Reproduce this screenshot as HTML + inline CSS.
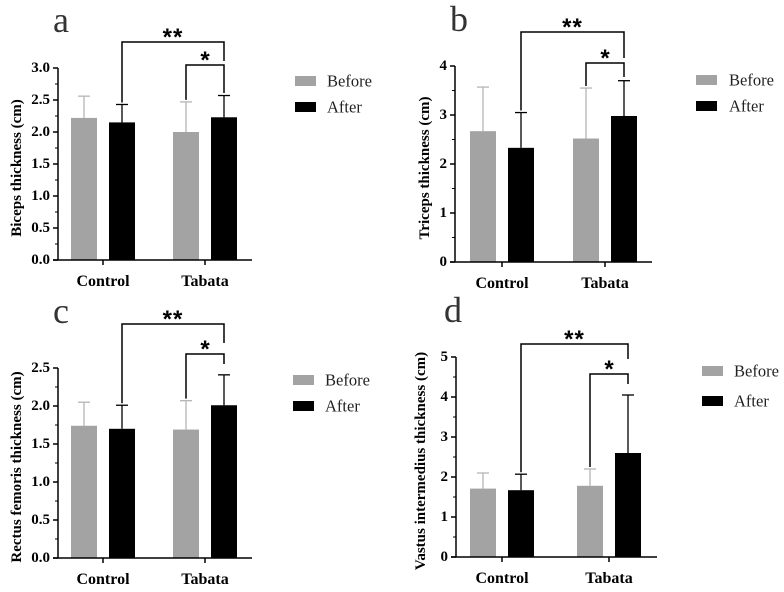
<!DOCTYPE html>
<html><head><meta charset="utf-8">
<style>
html,body{margin:0;padding:0;background:#fff;}
svg{display:block;font-family:"Liberation Serif",serif;}
</style></head>
<body>
<svg id="fig" width="784" height="592" viewBox="0 0 784 592" xmlns="http://www.w3.org/2000/svg"></svg>
<script>
// ---- data ----
const categories = ["Control", "Tabata"];
const seriesNames = ["Before", "After"];
const panelLetters = ["a", "b", "c", "d"];
const yTitles = ["Biceps thickness (cm)", "Triceps thickness (cm)", "Rectus femoris thickness (cm)", "Vastus intermedius thickness (cm)"];
const meansBefore = [[2.22, 2.00], [2.67, 2.52], [1.74, 1.69], [1.71, 1.78]];
const meansAfter  = [[2.15, 2.23], [2.33, 2.98], [1.70, 2.01], [1.67, 2.60]];
const sdBefore    = [[0.34, 0.47], [0.90, 1.03], [0.31, 0.38], [0.39, 0.42]];
const sdAfter     = [[0.28, 0.34], [0.72, 0.72], [0.31, 0.40], [0.40, 1.45]];
const yMax        = [3.0, 4, 2.5, 5];
const yStep       = [0.5, 1, 0.5, 1];
const yDecimals   = [1, 0, 1, 0];

// ---- layout (pixels) ----
const layouts = [
  {ax:58, top:68, bot:260, end:252, t0:103, t1:205, titleX:17, letterX:53, letterY:32, b2:42, b1:65, b2r:61, b1r:93, legX:295, legY:[76,102], legTX:327},
  {ax:455, top:66, bot:262, end:652, t0:502, t1:605, titleX:425, letterX:450, letterY:31, b2:32, b1:63, b2r:58, b1r:77, legX:696, legY:[75,101], legTX:729},
  {ax:58, top:368, bot:558, end:252, t0:103, t1:205, titleX:17, letterX:53, letterY:323, b2:324, b1:354, b2r:343, b1r:364, legX:293, legY:[375,401], legTX:325},
  {ax:456, top:357, bot:557, end:657, t0:502, t1:609, titleX:421, letterX:444, letterY:322, b2:344, b1:374, b2r:359, b1r:384, legX:702, legY:[366,396], legTX:734}
];
const NS = "http://www.w3.org/2000/svg";
const svg = document.getElementById("fig");
function mk(tag, attrs, parent, text){
  const e = document.createElementNS(NS, tag);
  for (const k in attrs) e.setAttribute(k, attrs[k]);
  if (text !== undefined) e.textContent = text;
  (parent || svg).appendChild(e);
  return e;
}
const gray = "#a3a3a3", errGray = "#b5b5b5";
panelLetters.forEach((letter, p) => {
  const L = layouts[p];
  const g = mk("g", {});
  
  
  const y = v => L.bot - (v / yMax[p]) * (L.bot - L.top);
  const groupX = [L.t0, L.t1];
  const lt = mk("text", {x:L.letterX, y:L.letterY, "font-size":36, fill:"#333"}, g, letter);
  
  
  const cy = (L.top + L.bot) / 2 + 4;
  const yt = mk("text", {x:L.titleX, y:cy, "font-size":15, "font-weight":"bold", "text-anchor":"middle", "dominant-baseline":"central", transform:`rotate(-90 ${L.titleX} ${cy})`}, g, yTitles[p]);
  
  
  categories.forEach((cat, i) => {
    const cx = groupX[i];
    [[meansBefore, sdBefore, gray, errGray, -19, "before"], [meansAfter, sdAfter, "#000", "#000", 19, "after"]].forEach(s => {
      const m = s[0][p][i], sd = s[1][p][i];
      const bc = cx + s[4];
      const top = y(m + sd);
      const el = mk("line", {x1:bc, x2:bc, y1:y(m), y2:top, stroke:s[3], "stroke-width":1.3}, g);
      
      
      const cap = mk("line", {x1:bc-6, x2:bc+6, y1:top, y2:top, stroke:s[3], "stroke-width":1.3}, g);
      
      
      const r = mk("rect", {x:bc-13, y:y(m), width:26, height:L.bot - y(m), fill:s[2]}, g);
      
      
    });
    const tk = mk("line", {x1:cx, x2:cx, y1:L.bot, y2:L.bot+5, stroke:"#000", "stroke-width":1.5}, g);
    
    
    const xl = mk("text", {x:cx, y:L.bot+26, "font-size":16, "font-weight":"bold", "text-anchor":"middle"}, g, cat);
    
    
  });
  const yAx = mk("line", {x1:L.ax, x2:L.ax, y1:L.top, y2:L.bot, stroke:"#000", "stroke-width":1.5}, g);
  
  
  const xAx = mk("line", {x1:L.ax-5, x2:L.end, y1:L.bot, y2:L.bot, stroke:"#000", "stroke-width":1.5}, g);
  
  
  const n = Math.round(yMax[p] / yStep[p]);
  for (let k = 0; k <= n; k++) {
    const v = k * yStep[p];
    const tk = mk("line", {x1:L.ax-5, x2:L.ax, y1:y(v), y2:y(v), stroke:"#000", "stroke-width":1.5}, g);
    
    
    if (k < n) {
      const mt = mk("line", {x1:L.ax-3, x2:L.ax, y1:y(v + yStep[p]/2), y2:y(v + yStep[p]/2), stroke:"#000", "stroke-width":1}, g);
      
      
    }
    const tl = mk("text", {x:L.ax-8, y:y(v), "font-size":15, "font-weight":"bold", "text-anchor":"end", "dominant-baseline":"central"}, g, v.toFixed(yDecimals[p]));
    
    
  }
  const afterX0 = L.t0 + 19, beforeX1 = L.t1 - 19, afterX1 = L.t1 + 19;
  const topA0 = y(meansAfter[p][0] + sdAfter[p][0]) - 2;
  const topB1 = y(meansBefore[p][1] + sdBefore[p][1]) - 2;
  const br2 = mk("polyline", {points:`${afterX0},${topA0} ${afterX0},${L.b2} ${afterX1},${L.b2} ${afterX1},${L.b2r}`, fill:"none", stroke:"#000", "stroke-width":1.5}, g);
  
  
  const s2 = mk("text", {x:(afterX0+afterX1)/2, y:L.b2 + 3, "font-size":24, "font-weight":"bold", "text-anchor":"middle", "letter-spacing":"1", "font-family":"Liberation Sans, sans-serif"}, g, "**");
  
  
  const br1 = mk("polyline", {points:`${beforeX1},${topB1} ${beforeX1},${L.b1} ${afterX1},${L.b1} ${afterX1},${L.b1r}`, fill:"none", stroke:"#000", "stroke-width":1.5}, g);
  
  
  const s1 = mk("text", {x:(beforeX1+afterX1)/2, y:L.b1 + 3, "font-size":24, "font-weight":"bold", "text-anchor":"middle", "font-family":"Liberation Sans, sans-serif"}, g, "*");
  
  
  seriesNames.forEach((nm, j) => {
    const sw = mk("rect", {x:L.legX, y:L.legY[j], width:21, height:10, fill: j ? "#000" : gray}, g);
    
    
    const tx = mk("text", {x:L.legTX, y:L.legY[j]+5, "font-size":16.5, "dominant-baseline":"central", fill:"#222"}, g, nm);
    
    
  });
});
</script>
</body></html>
